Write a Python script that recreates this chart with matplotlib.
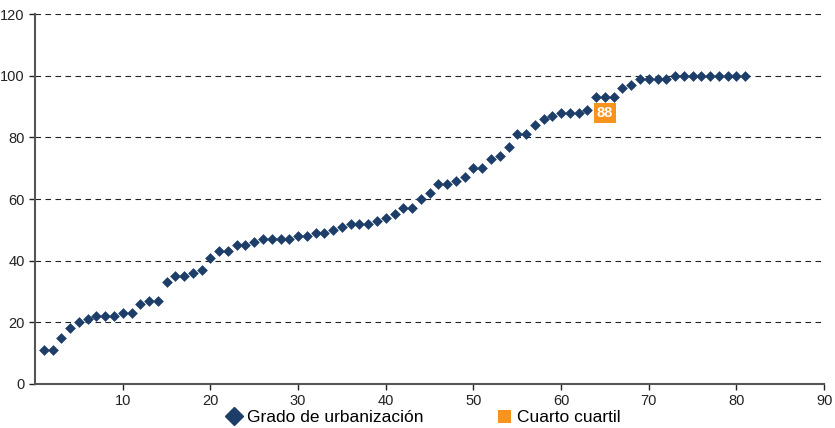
import numpy as np
import matplotlib.pyplot as plt
from matplotlib.lines import Line2D
from matplotlib.patches import Patch

plt.rcParams['font.family'] = ['Liberation Sans', 'DejaVu Sans']

# Grado de urbanizacion, ordered
posicion = np.arange(1, 82)
grado = [11, 11, 15, 18, 20, 21, 22, 22, 22, 23,
         23, 26, 27, 27, 33, 35, 35, 36, 37, 41,
         43, 43, 45, 45, 46, 47, 47, 47, 47, 48,
         48, 49, 49, 50, 51, 52, 52, 52, 53, 54,
         55, 57, 57, 60, 62, 65, 65, 66, 67, 70,
         70, 73, 74, 77, 81, 81, 84, 86, 87, 88,
         88, 88, 89, 93, 93, 93, 96, 97, 99, 99,
         99, 99, 100, 100, 100, 100, 100, 100, 100, 100,
         100]

# fourth quartile threshold
cuartil_x = 65
cuartil_valor = 88

azul = '#1d3e68'
naranja = '#f7941d'

fig = plt.figure(figsize=(8.35, 4.28), dpi=100)
ax = fig.add_axes([0.042, 0.103, 0.945, 0.864])

ax.scatter(posicion, grado, marker='D', s=30, color=azul, zorder=3, linewidths=0)

ax.text(cuartil_x, cuartil_valor, str(cuartil_valor), color='white', fontsize=10.5,
        fontweight='bold', ha='center', va='center', zorder=4,
        bbox=dict(boxstyle='square,pad=0.2', facecolor=naranja, edgecolor='none'))

ax.set_xlim(0, 90)
ax.set_ylim(0, 120)
ax.set_xticks(np.arange(10, 91, 10))
ax.set_yticks(np.arange(0, 121, 20))
ax.tick_params(labelsize=10.5, colors='#222222', length=4, width=1)

for y in range(20, 121, 20):
    ax.axhline(y, color='#222222', linestyle=(0, (5, 4)), linewidth=0.8, zorder=1)

for s in ['top', 'right']:
    ax.spines[s].set_visible(False)
for s in ['left', 'bottom']:
    ax.spines[s].set_color('#555555')
    ax.spines[s].set_linewidth(1.5)

handles = [
    Line2D([], [], marker='D', color=azul, linestyle='none', markersize=9),
    Patch(facecolor=naranja, edgecolor='none'),
]
fig.legend(handles, ['Grado de urbanización', 'Cuarto cuartil'], loc='center',
           bbox_to_anchor=(0.508, 0.024), ncol=2, frameon=False, fontsize=12.5,
           columnspacing=4.3, handlelength=0.75, handleheight=0.75, handletextpad=0.35,
           borderpad=0)

fig.savefig('out.png', dpi=100)
